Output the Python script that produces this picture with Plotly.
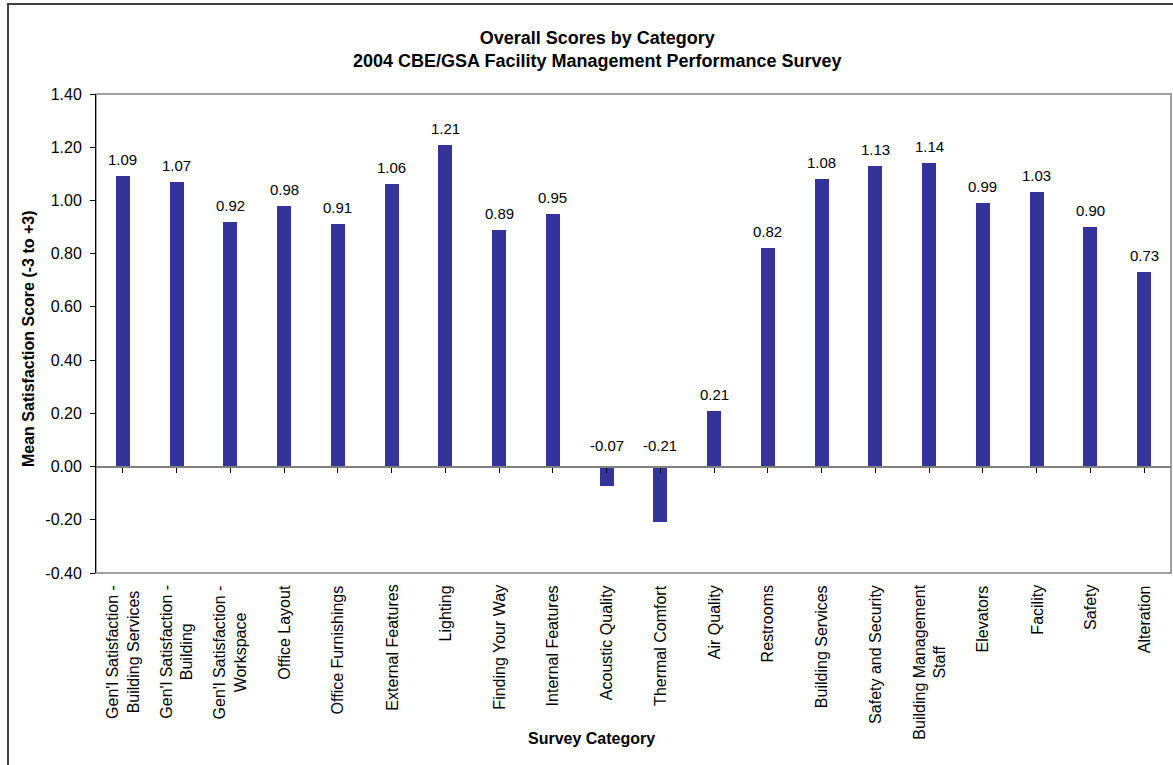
import plotly.graph_objects as go

categories = [
    "Gen'l Satisfaction -<br>Building Services",
    "Gen'l Satisfaction -<br>Building",
    "Gen'l Satisfaction -<br>Workspace",
    "Office Layout",
    "Office Furnishings",
    "External Features",
    "Lighting",
    "Finding Your Way",
    "Internal Features",
    "Acoustic Quality",
    "Thermal Comfort",
    "Air Quality",
    "Restrooms",
    "Building Services",
    "Safety and Security",
    "Building Management<br>Staff",
    "Elevators",
    "Facility",
    "Safety",
    "Alteration",
]
scores = [1.09, 1.07, 0.92, 0.98, 0.91, 1.06, 1.21, 0.89, 0.95, -0.074, -0.21,
          0.21, 0.82, 1.08, 1.13, 1.14, 0.99, 1.03, 0.90, 0.73]
y_ticks = [-0.4, -0.2, 0.0, 0.2, 0.4, 0.6, 0.8, 1.0, 1.2, 1.4]
title_lines = ["Overall Scores by Category",
               "2004 CBE/GSA Facility Management Performance Survey"]
y_title = "Mean Satisfaction Score (-3 to +3)"
x_title = "Survey Category"

W, H = 1173, 765
L, R, T, B = 96, 1171, 94, 573
FONT = "Liberation Sans, Arial, sans-serif"

def px_x(p):
    return (p - L) / (R - L)

def px_y(p):
    return (B - p) / (B - T)

idx = list(range(len(categories)))
ymin, ymax = y_ticks[0], y_ticks[-1]

fig = go.Figure()
fig.add_trace(go.Bar(
    x=idx, y=scores, width=0.26,
    marker=dict(color="#333399", line=dict(width=0)),
    hoverinfo="skip",
))

ann = []
# value labels
for i, v in zip(idx, scores):
    ann.append(dict(
        x=i, y=max(v, 0), xref="x", yref="y",
        text=f"{v:.2f}", showarrow=False,
        xanchor="center", yanchor="bottom",
        yshift=6 if v >= 0 else 11,
        font=dict(family=FONT, size=15, color="black"),
    ))
# category labels
for i, c in zip(idx, categories):
    ann.append(dict(
        x=i, y=px_y(583), xref="x", yref="paper",
        text=c, showarrow=False, textangle=-90,
        xanchor="center", yanchor="top", align="center",
        font=dict(family=FONT, size=16, color="black"),
    ))
# titles
ann.append(dict(
    x=px_x(597), y=px_y(49.5), xref="paper", yref="paper",
    text="<br>".join(f"<b>{t}</b>" for t in title_lines), showarrow=False,
    xanchor="center", yanchor="middle", align="center",
    font=dict(family=FONT, size=18, color="black"),
))
ann.append(dict(
    x=px_x(28), y=px_y(339), xref="paper", yref="paper",
    text=f"<b>{y_title}</b>", showarrow=False, textangle=-90,
    xanchor="center", yanchor="middle",
    font=dict(family=FONT, size=16, color="black"),
))
ann.append(dict(
    x=px_x(591), y=px_y(738), xref="paper", yref="paper",
    text=f"<b>{x_title}</b>", showarrow=False,
    xanchor="center", yanchor="middle",
    font=dict(family=FONT, size=16, color="black"),
))

shapes = [
    # plot area border (gray)
    dict(type="rect", xref="paper", yref="paper", x0=0, x1=1, y0=0, y1=1,
         line=dict(color="#a0a0a0", width=2), layer="below"),
    # outer chart frame
    dict(type="path", xref="paper", yref="paper",
         path=f"M {px_x(8)} {px_y(800)} L {px_x(8)} {px_y(4)} L {px_x(1200)} {px_y(4)}",
         line=dict(color="#404040", width=2)),
]

fig.update_layout(
    width=W, height=H,
    margin=dict(l=L, r=W - R, t=T, b=H - B),
    paper_bgcolor="white", plot_bgcolor="white",
    showlegend=False,
    annotations=ann, shapes=shapes,
    font=dict(family=FONT, size=16, color="black"),
    bargap=0,
)
fig.update_xaxes(
    range=[-0.5, len(categories) - 0.5],
    tickmode="array", tickvals=idx, ticktext=[""] * len(idx),
    tickson="boundaries", ticks="outside", ticklen=5, tickcolor="black", tickwidth=1,
    showticklabels=False,
    showline=True, linecolor="#808080", linewidth=2,
    anchor="free", position=(0 - ymin) / (ymax - ymin),
    showgrid=False, zeroline=False,
)
fig.update_yaxes(
    range=[ymin, ymax],
    tickmode="array", tickvals=y_ticks, ticktext=[f"{t:.2f}" for t in y_ticks],
    ticks="outside", ticklen=5, tickcolor="black",
    ticklabelstandoff=5,
    showline=True, linecolor="black", linewidth=1,
    showgrid=False, zeroline=False,
    tickfont=dict(family=FONT, size=16, color="black"),
)

fig.write_html("out.html")
